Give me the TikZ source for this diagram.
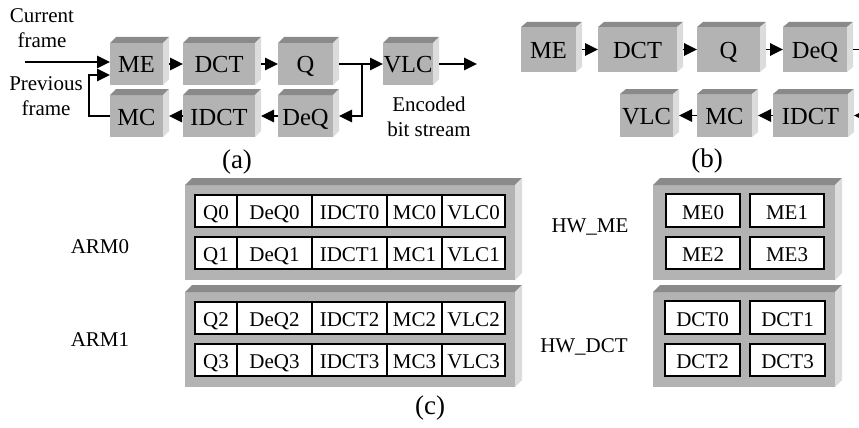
\documentclass[tikz,border=0pt]{standalone}
\usepackage{fontspec}
\setmainfont{Liberation Serif}
\usetikzlibrary{arrows.meta,calc}

\definecolor{facefront}{HTML}{B3B3B3}
\definecolor{facetop}{HTML}{8A8A8A}
\definecolor{faceside}{HTML}{DCDCDC}

\tikzset{
  blk/.style={fill=facefront, inner sep=0pt, outer sep=0pt,
    text height=18pt, text depth=0pt, font=\fontsize{24.5}{24.5}\selectfont},
  panel/.style={fill=facefront, inner sep=0pt, outer sep=0pt},
  cell/.style={draw=black, line width=1.4pt, fill=white, inner sep=0pt, outer sep=0pt,
    text height=17pt, text depth=0pt, font=\fontsize{21}{21}\selectfont},
  lbl/.style={font=\fontsize{21}{25}\selectfont, align=center, inner sep=0pt},
  subcap/.style={font=\fontsize{27}{27}\selectfont, inner sep=0pt},
  arr/.style={line width=1.8pt, -{Triangle[length=13pt,width=12.5pt]}},
  ln/.style={line width=1.8pt},
}

% node whose front face spans (left,top)-(right,bottom)
\newcommand\mkbox[7]{% style, name, left, top, right, bottom, text
  \node[#1, minimum width={(#5-#3)*1pt}, minimum height={(#6-#4)*1pt}]
    (#2) at ({(#3+#5)/2},{(#4+#6)/2}) {#7};}
% shaded top and right faces of a block
\newcommand\blockfaces[3]{% name, dx, dy
  \fill[facetop] (#1.north west) -- ++(#2,-#3) -- ($(#1.north east)+(#2,-#3)$)
    -- (#1.north east) -- cycle;
  \fill[faceside] (#1.north east) -- ++(#2,-#3) -- ($(#1.south east)+(#2,-#3)$)
    -- (#1.south east) -- cycle;}

\begin{document}
\begin{tikzpicture}[x=1pt,y=-1pt]
\clip (0,0) rectangle (859,428);
\fill[white] (0,0) rectangle (859,428);

% ---------- (a) encoder loop ----------
\mkbox{blk}{aME}{110}{43}{163}{85}{ME}
\mkbox{blk}{aDCT}{183}{43}{255}{85}{DCT}
\mkbox{blk}{aQ}{278}{43}{333}{85}{Q}
\mkbox{blk}{aVLC}{383}{43}{433}{85}{VLC}
\mkbox{blk}{aMC}{110}{95}{163}{137}{MC}
\mkbox{blk}{aIDCT}{183}{95}{255}{137}{IDCT}
\mkbox{blk}{aDeQ}{278}{95}{333}{137}{DeQ}
\foreach \n in {aME,aDCT,aQ,aVLC,aMC,aIDCT,aDeQ} {\blockfaces{\n}{6}{6}}

\node[lbl] (curtxt) at (42,28) {Current\\frame};
\node[lbl] (prevtxt) at (46,96) {Previous\\frame};
\node[lbl] (enctxt) at (429,117) {Encoded\\bit stream};
\node[subcap] (capa) at (237,162) {(a)};

\coordinate (cf) at (25,62);
\coordinate (pf) at (89,75);
\coordinate (br) at ($(aQ.east)+(29,0)$);
\coordinate (es) at (477,64);
\draw[arr] (cf) -- (cf -| aME.west);
\draw[arr] (aMC.west) -- (aMC.west -| pf) -- (pf) -- (pf -| aME.west);
\draw[arr] ([xshift=6pt]aME.east) -- (aDCT.west);
\draw[arr] ([xshift=6pt]aDCT.east) -- (aQ.west);
\draw[arr] ([xshift=6pt]aQ.east) -- (aVLC.west);
\draw[arr] (br) |- ([xshift=6pt]aDeQ.east);
\draw[arr] ([xshift=6pt]aVLC.east) -- (es);
\draw[arr] (aDeQ.west) -- ([xshift=6pt]aIDCT.east);
\draw[arr] (aIDCT.west) -- ([xshift=6pt]aMC.east);

% ---------- (b) reordered pipeline ----------
\mkbox{blk}{bME}{521}{27}{576}{72}{ME}
\mkbox{blk}{bDCT}{598}{27}{677}{72}{DCT}
\mkbox{blk}{bQ}{697}{27}{760}{72}{Q}
\mkbox{blk}{bDeQ}{783}{27}{847}{72}{DeQ}
\mkbox{blk}{bVLC}{620}{94}{673}{137}{VLC}
\mkbox{blk}{bMC}{697}{94}{752}{137}{MC}
\mkbox{blk}{bIDCT}{773}{94}{848}{137}{IDCT}
\foreach \n in {bME,bDCT,bQ,bDeQ,bVLC,bMC,bIDCT} {\blockfaces{\n}{6}{5}}

\node[subcap] (capb) at (707,161) {(b)};

\coordinate (bout) at (880,49.5);
\coordinate (bin) at (885,115.5);
\draw[arr] ([xshift=6pt]bME.east) -- (bDCT.west);
\draw[arr] ([xshift=6pt]bDCT.east) -- (bQ.west);
\draw[arr] ([xshift=6pt]bQ.east) -- (bDeQ.west);
\draw[ln] ([xshift=6pt]bDeQ.east) -- (bout);
\draw[arr] (bin) -- ([xshift=6pt]bIDCT.east);
\draw[arr] (bIDCT.west) -- ([xshift=6pt]bMC.east);
\draw[arr] (bMC.west) -- ([xshift=6pt]bVLC.east);

% ---------- (c) task mapping ----------
\mkbox{panel}{arm0}{185}{185}{515}{280}{}
\mkbox{panel}{arm1}{185}{292}{515}{387}{}
\mkbox{panel}{hwme}{653}{185}{835}{280}{}
\mkbox{panel}{hwdct}{653}{292}{835}{387}{}
\foreach \n in {arm0,arm1,hwme,hwdct} {\blockfaces{\n}{7}{7}}

% software stages on the two ARM cores
\foreach \r/\yt/\yb in {0/195/227, 1/237/269, 2/302/334, 3/344/376} {
  \mkbox{cell}{q\r}{195}{\yt}{237}{\yb}{Q\r}
  \mkbox{cell}{deq\r}{237}{\yt}{312}{\yb}{DeQ\r}
  \mkbox{cell}{idct\r}{312}{\yt}{387}{\yb}{IDCT\r}
  \mkbox{cell}{mc\r}{387}{\yt}{442}{\yb}{MC\r}
  \mkbox{cell}{vlc\r}{442}{\yt}{505}{\yb}{VLC\r}
}
% hardware accelerator instances
\mkbox{cell}{me0}{666}{194}{740}{227}{ME0}
\mkbox{cell}{me1}{750}{194}{824}{227}{ME1}
\mkbox{cell}{me2}{666}{237}{740}{269}{ME2}
\mkbox{cell}{me3}{750}{237}{824}{269}{ME3}
\mkbox{cell}{dct0}{665}{301}{740}{334}{DCT0}
\mkbox{cell}{dct1}{750}{301}{825}{334}{DCT1}
\mkbox{cell}{dct2}{665}{344}{740}{376}{DCT2}
\mkbox{cell}{dct3}{750}{344}{825}{376}{DCT3}

\node[lbl] (larm0) at (100,247) {ARM0};
\node[lbl] (larm1) at (100,340) {ARM1};
\node[lbl] (lhwme) at (590,227) {HW\_ME};
\node[lbl] (lhwdct) at (584,347) {HW\_DCT};
\node[subcap] (capc) at (430,408) {(c)};
\end{tikzpicture}
\end{document}
